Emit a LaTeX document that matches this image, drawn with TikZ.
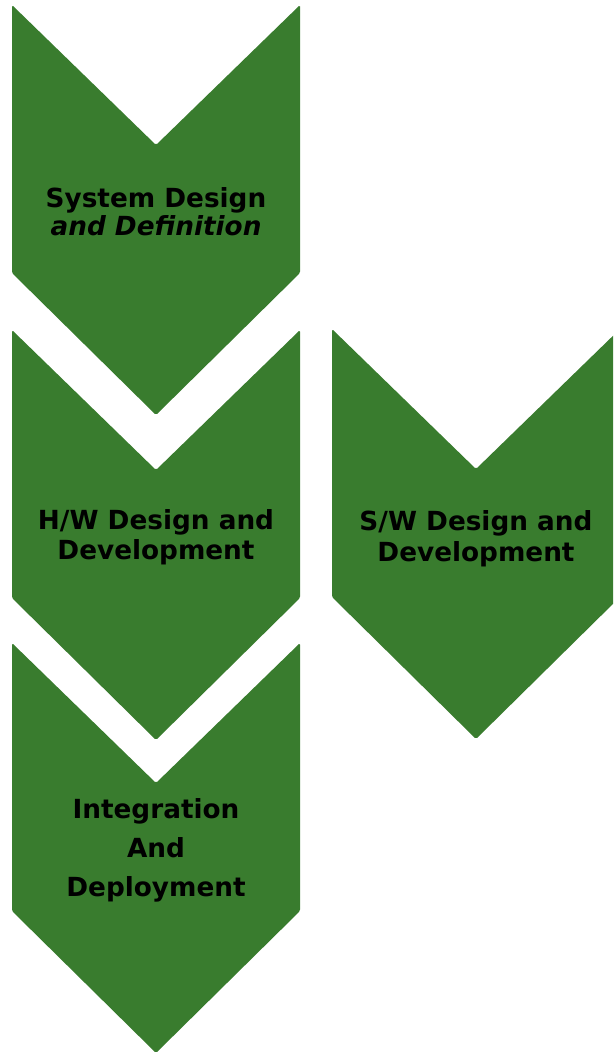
\documentclass[tikz,border=0pt]{standalone}
\usepackage{fontspec}
\setmainfont{DejaVu Sans}
\usepackage{tikz}
\definecolor{phasegreen}{RGB}{57,124,46}
\newcommand{\chevron}[2]{%
  \fill[phase] (#1,#2) -- ++(144,140) -- ++(144,-140) -- ++(0,268)
    -- ++(-144,142) -- ++(-144,-142) -- cycle;}

\begin{document}
\begin{tikzpicture}[x=1pt,y=-1pt,
    phase/.style={fill=phasegreen, rounded corners=1.5pt},
    phasetext/.style={font=\fontsize{26.3}{28}\selectfont\bfseries, align=center, text=black, inner sep=0pt}]

        \useasboundingbox (0,0) rectangle (613,1052);
        \clip (0,0) rectangle (613,1052);

          % chevrons
        \chevron{12}{5}
        \chevron{12}{330}
        \chevron{12}{643}
        \chevron{332}{329}

          % labels
        \node (sysdef) at (156,212) [phasetext] {System Design\\\itshape and Definition};
        \node (hwdev) at (156,537) [phasetext, font=\fontsize{26.3}{30}\selectfont\bfseries] {H/W Design and\\Development};
        \node (swdev) at (476,539) [phasetext, font=\fontsize{26.3}{31}\selectfont\bfseries] {S/W Design and\\Development};
        \node (integ) at (156,850) [phasetext, font=\fontsize{26.3}{39}\selectfont\bfseries] {Integration\\And\\Deployment};

        \end{tikzpicture}
\end{document}
